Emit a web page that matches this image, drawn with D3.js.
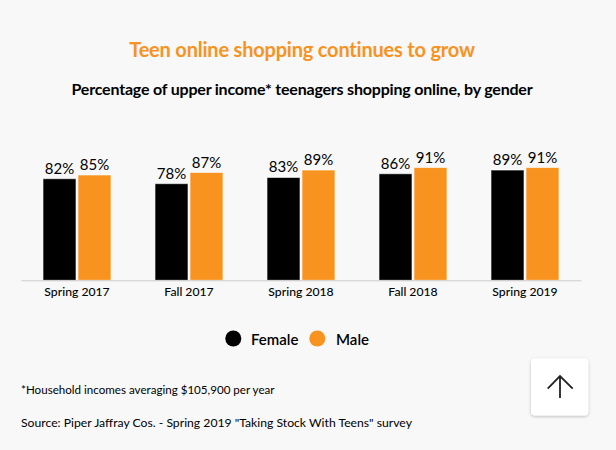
<!DOCTYPE html>
<html>
<head>
<meta charset="utf-8">
<script src="https://cdn.jsdelivr.net/npm/d3@7"></script>
<style>
  html, body { margin: 0; padding: 0; background: #f8f8f8; }
  svg { display: block; font-family: Lato, "Open Sans", sans-serif; }
</style>
</head>
<body>
<svg id="chart" width="616" height="450"></svg>
<script>
const categories = ["Spring 2017", "Fall 2017", "Spring 2018", "Fall 2018", "Spring 2019"];
const seriesNames = ["Female", "Male"];
const female = [82, 78, 83, 86, 89];
const male = [85, 87, 89, 91, 91];
const colors = ["#000000", "#f7931e"];
const title = "Teen online shopping continues to grow";
const subtitle = "Percentage of upper income* teenagers shopping online, by gender";
const footnote = "*Household incomes averaging $105,900 per year";
const source = "Source: Piper Jaffray Cos. - Spring 2019 \"Taking Stock With Teens\" survey";

const svg = d3.select("#chart");
svg.append("rect").attr("width", 616).attr("height", 450).attr("fill", "#f8f8f8");

svg.append("text").attr("x", 302).attr("y", 56.5).attr("text-anchor", "middle")
  .attr("fill", "#f7931e").attr("font-weight", "bold").attr("font-size", 20)
  .attr("letter-spacing", -0.2).text(title);
svg.append("text").attr("x", 302).attr("y", 95).attr("text-anchor", "middle")
  .attr("fill", "#000").attr("font-weight", "bold").attr("font-size", 16)
  .attr("letter-spacing", -0.2).text(subtitle);

const x0 = d3.scaleBand().domain(categories).range([21, 581]).paddingInner(0.393).paddingOuter(0.1965);
const x1 = d3.scaleBand().domain(seriesNames).range([0, x0.bandwidth()]).paddingInner(0.057);
const y = d3.scaleLinear().domain([0, 100]).range([280.3, 156.4]);

const data = categories.map((c, i) => ({ cat: c, vals: [female[i], male[i]] }));

const groups = svg.append("g").selectAll("g").data(data).join("g")
  .attr("transform", d => `translate(${x0(d.cat)},0)`);

groups.selectAll("rect").data(d => d.vals.map((v, j) => ({ v, j }))).join("rect")
  .attr("x", d => x1(seriesNames[d.j]))
  .attr("y", d => y(d.v))
  .attr("width", x1.bandwidth())
  .attr("height", d => y(0) - y(d.v))
  .attr("fill", d => colors[d.j])
  .attr("stroke", "#ffffff").attr("stroke-opacity", 0.6).attr("stroke-width", 1);

groups.selectAll("text").data(d => d.vals.map((v, j) => ({ v, j }))).join("text")
  .attr("x", d => x1(seriesNames[d.j]) + x1.bandwidth() / 2)
  .attr("y", d => y(d.v) - 5)
  .attr("text-anchor", "middle")
  .attr("font-size", 15).attr("fill", "#000")
  .text(d => d.v + "%");

const xAxis = svg.append("g").attr("transform", "translate(0,280.3)")
  .call(d3.axisBottom(x0).tickSize(0).tickSizeOuter(0).tickPadding(7));
xAxis.select(".domain").attr("stroke", "#cccccc");
xAxis.selectAll("text").attr("font-family", "Lato, sans-serif").attr("font-size", 12.2)
  .attr("font-weight", 500).attr("fill", "#000").attr("dy", "0.71em");

// legend
const legend = svg.append("g");
const legendItems = [{ name: seriesNames[0], cx: 233.3, tx: 251 }, { name: seriesNames[1], cx: 317.3, tx: 336 }];
legendItems.forEach((it, i) => {
  legend.append("circle").attr("cx", it.cx).attr("cy", 338.5).attr("r", 8).attr("fill", colors[i]);
  legend.append("text").attr("x", it.tx).attr("y", 345).attr("font-size", 15)
    .attr("font-weight", 600).attr("fill", "#000").text(it.name);
});

svg.append("text").attr("x", 21).attr("y", 394.3).attr("font-size", 11.6).attr("fill", "#000").text(footnote);
svg.append("text").attr("x", 21).attr("y", 427.3).attr("font-size", 12.2).attr("fill", "#000").text(source);

// back-to-top button
const defs = svg.append("defs");
const f = defs.append("filter").attr("id", "shadow").attr("x", "-20%").attr("y", "-20%").attr("width", "140%").attr("height", "140%");
f.append("feDropShadow").attr("dx", 0).attr("dy", 1).attr("stdDeviation", 1.5).attr("flood-color", "#000").attr("flood-opacity", 0.25);
svg.append("rect").attr("x", 531).attr("y", 358.3).attr("width", 57.3).attr("height", 57.3).attr("rx", 4)
  .attr("fill", "#ffffff").attr("filter", "url(#shadow)");
svg.append("path").attr("d", "M560,376 L560,398 M547.7,388.7 L560,376 L572.7,388.7")
  .attr("fill", "none").attr("stroke", "#222").attr("stroke-width", 1.8);
</script>
</body>
</html>
